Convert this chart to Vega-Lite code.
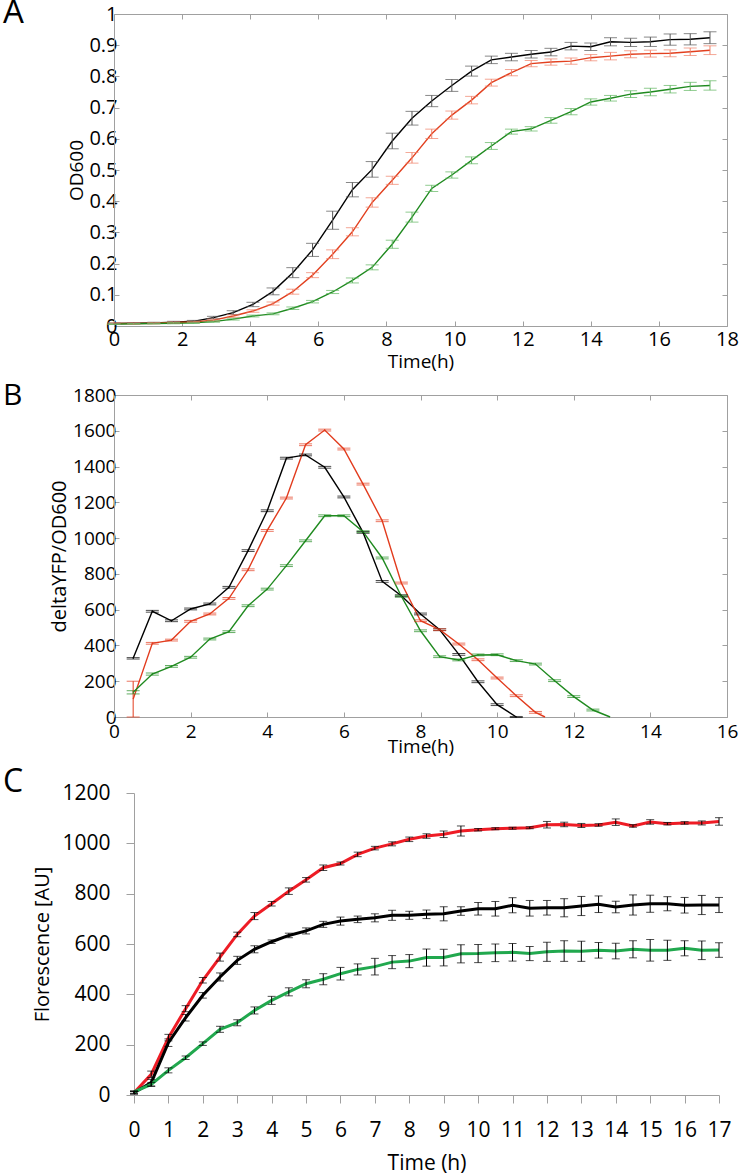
{
"$schema": "https://vega.github.io/schema/vega-lite/v6.json",
"padding": {"left": 3, "top": -4, "right": 0, "bottom": 4},
"spacing": 10,
"resolve": {"scale": {"color": "independent"}},
"datasets": {
"A": [
{"t":0,"s":"k","v":0.008,"e":0.002},{"t":0,"s":"r","v":0.008,"e":0.002},{"t":0,"s":"g","v":0.006,"e":0.001},
{"t":0.58,"s":"k","v":0.009,"e":0.002},{"t":0.58,"s":"r","v":0.008,"e":0.002},{"t":0.58,"s":"g","v":0.007,"e":0.001},
{"t":1.17,"s":"k","v":0.010,"e":0.002},{"t":1.17,"s":"r","v":0.009,"e":0.002},{"t":1.17,"s":"g","v":0.008,"e":0.001},
{"t":1.75,"s":"k","v":0.012,"e":0.003},{"t":1.75,"s":"r","v":0.011,"e":0.002},{"t":1.75,"s":"g","v":0.009,"e":0.002},
{"t":2.33,"s":"k","v":0.015,"e":0.003},{"t":2.33,"s":"r","v":0.013,"e":0.002},{"t":2.33,"s":"g","v":0.010,"e":0.002},
{"t":2.92,"s":"k","v":0.027,"e":0.004},{"t":2.92,"s":"r","v":0.019,"e":0.003},{"t":2.92,"s":"g","v":0.014,"e":0.002},
{"t":3.5,"s":"k","v":0.043,"e":0.006},{"t":3.5,"s":"r","v":0.032,"e":0.004},{"t":3.5,"s":"g","v":0.022,"e":0.003},
{"t":4.08,"s":"k","v":0.069,"e":0.007},{"t":4.08,"s":"r","v":0.048,"e":0.004},{"t":4.08,"s":"g","v":0.032,"e":0.003},
{"t":4.67,"s":"k","v":0.111,"e":0.011},{"t":4.67,"s":"r","v":0.072,"e":0.005},{"t":4.67,"s":"g","v":0.039,"e":0.003},
{"t":5.25,"s":"k","v":0.171,"e":0.016},{"t":5.25,"s":"r","v":0.110,"e":0.008},{"t":5.25,"s":"g","v":0.057,"e":0.004},
{"t":5.83,"s":"k","v":0.244,"e":0.021},{"t":5.83,"s":"r","v":0.163,"e":0.008},{"t":5.83,"s":"g","v":0.078,"e":0.004},
{"t":6.42,"s":"k","v":0.339,"e":0.029},{"t":6.42,"s":"r","v":0.230,"e":0.014},{"t":6.42,"s":"g","v":0.109,"e":0.005},
{"t":7,"s":"k","v":0.437,"e":0.023},{"t":7,"s":"r","v":0.302,"e":0.013},{"t":7,"s":"g","v":0.146,"e":0.008},
{"t":7.58,"s":"k","v":0.502,"e":0.025},{"t":7.58,"s":"r","v":0.396,"e":0.015},{"t":7.58,"s":"g","v":0.188,"e":0.008},
{"t":8.17,"s":"k","v":0.593,"e":0.025},{"t":8.17,"s":"r","v":0.467,"e":0.013},{"t":8.17,"s":"g","v":0.262,"e":0.013},
{"t":8.75,"s":"k","v":0.666,"e":0.022},{"t":8.75,"s":"r","v":0.539,"e":0.017},{"t":8.75,"s":"g","v":0.349,"e":0.016},
{"t":9.33,"s":"k","v":0.721,"e":0.018},{"t":9.33,"s":"r","v":0.616,"e":0.015},{"t":9.33,"s":"g","v":0.441,"e":0.010},
{"t":9.92,"s":"k","v":0.771,"e":0.019},{"t":9.92,"s":"r","v":0.676,"e":0.013},{"t":9.92,"s":"g","v":0.484,"e":0.010},
{"t":10.5,"s":"k","v":0.817,"e":0.016},{"t":10.5,"s":"r","v":0.724,"e":0.012},{"t":10.5,"s":"g","v":0.531,"e":0.011},
{"t":11.08,"s":"k","v":0.853,"e":0.012},{"t":11.08,"s":"r","v":0.780,"e":0.011},{"t":11.08,"s":"g","v":0.577,"e":0.011},
{"t":11.67,"s":"k","v":0.862,"e":0.012},{"t":11.67,"s":"r","v":0.812,"e":0.010},{"t":11.67,"s":"g","v":0.623,"e":0.008},
{"t":12.25,"s":"k","v":0.871,"e":0.012},{"t":12.25,"s":"r","v":0.841,"e":0.010},{"t":12.25,"s":"g","v":0.632,"e":0.007},
{"t":12.83,"s":"k","v":0.878,"e":0.012},{"t":12.83,"s":"r","v":0.846,"e":0.010},{"t":12.83,"s":"g","v":0.659,"e":0.009},
{"t":13.42,"s":"k","v":0.897,"e":0.012},{"t":13.42,"s":"r","v":0.849,"e":0.010},{"t":13.42,"s":"g","v":0.687,"e":0.010},
{"t":14,"s":"k","v":0.895,"e":0.012},{"t":14,"s":"r","v":0.860,"e":0.010},{"t":14,"s":"g","v":0.718,"e":0.010},
{"t":14.58,"s":"k","v":0.911,"e":0.013},{"t":14.58,"s":"r","v":0.865,"e":0.012},{"t":14.58,"s":"g","v":0.730,"e":0.009},
{"t":15.17,"s":"k","v":0.909,"e":0.013},{"t":15.17,"s":"r","v":0.871,"e":0.011},{"t":15.17,"s":"g","v":0.743,"e":0.011},
{"t":15.75,"s":"k","v":0.911,"e":0.015},{"t":15.75,"s":"r","v":0.873,"e":0.011},{"t":15.75,"s":"g","v":0.750,"e":0.012},
{"t":16.33,"s":"k","v":0.918,"e":0.018},{"t":16.33,"s":"r","v":0.874,"e":0.011},{"t":16.33,"s":"g","v":0.759,"e":0.012},
{"t":16.92,"s":"k","v":0.919,"e":0.018},{"t":16.92,"s":"r","v":0.879,"e":0.012},{"t":16.92,"s":"g","v":0.768,"e":0.013},
{"t":17.5,"s":"k","v":0.924,"e":0.019},{"t":17.5,"s":"r","v":0.884,"e":0.014},{"t":17.5,"s":"g","v":0.771,"e":0.015}
],
"B": [
{"t":0.5,"s":"k","v":328,"e":4},{"t":1,"s":"k","v":591,"e":5},{"t":1.5,"s":"k","v":538,"e":5},{"t":2,"s":"k","v":604,"e":5},{"t":2.5,"s":"k","v":632,"e":5},{"t":3,"s":"k","v":725,"e":5},{"t":3.5,"s":"k","v":930,"e":5},{"t":4,"s":"k","v":1153,"e":5},{"t":4.5,"s":"k","v":1447,"e":5},{"t":5,"s":"k","v":1465,"e":5},{"t":5.5,"s":"k","v":1396,"e":5},{"t":6,"s":"k","v":1230,"e":5},{"t":6.5,"s":"k","v":1032,"e":5},{"t":7,"s":"k","v":758,"e":5},{"t":7.5,"s":"k","v":678,"e":5},{"t":8,"s":"k","v":576,"e":5},{"t":8.5,"s":"k","v":488,"e":5},{"t":9,"s":"k","v":350,"e":5},{"t":9.5,"s":"k","v":197,"e":5},{"t":10,"s":"k","v":69,"e":5},{"t":10.5,"s":"k","v":0,"e":3},
{"t":0.5,"s":"r","v":100,"e":100},{"t":1,"s":"r","v":412,"e":5},{"t":1.5,"s":"r","v":430,"e":5},{"t":2,"s":"r","v":535,"e":5},{"t":2.5,"s":"r","v":576,"e":5},{"t":3,"s":"r","v":663,"e":5},{"t":3.5,"s":"r","v":823,"e":5},{"t":4,"s":"r","v":1043,"e":5},{"t":4.5,"s":"r","v":1224,"e":5},{"t":5,"s":"r","v":1522,"e":5},{"t":5.5,"s":"r","v":1604,"e":5},{"t":6,"s":"r","v":1498,"e":5},{"t":6.5,"s":"r","v":1302,"e":5},{"t":7,"s":"r","v":1097,"e":5},{"t":7.5,"s":"r","v":749,"e":5},{"t":8,"s":"r","v":538,"e":5},{"t":8.5,"s":"r","v":488,"e":5},{"t":9,"s":"r","v":408,"e":5},{"t":9.5,"s":"r","v":320,"e":5},{"t":10,"s":"r","v":218,"e":5},{"t":10.5,"s":"r","v":119,"e":5},{"t":11,"s":"r","v":26,"e":5},{"t":11.25,"s":"r","v":0,"e":null},
{"t":0.5,"s":"g","v":138,"e":9},{"t":1,"s":"g","v":240,"e":6},{"t":1.5,"s":"g","v":283,"e":5},{"t":2,"s":"g","v":334,"e":5},{"t":2.5,"s":"g","v":436,"e":5},{"t":3,"s":"g","v":477,"e":5},{"t":3.5,"s":"g","v":622,"e":5},{"t":4,"s":"g","v":715,"e":5},{"t":4.5,"s":"g","v":846,"e":5},{"t":5,"s":"g","v":985,"e":5},{"t":5.5,"s":"g","v":1125,"e":5},{"t":6,"s":"g","v":1125,"e":5},{"t":6.5,"s":"g","v":1036,"e":5},{"t":7,"s":"g","v":889,"e":5},{"t":7.5,"s":"g","v":675,"e":5},{"t":8,"s":"g","v":482,"e":5},{"t":8.5,"s":"g","v":337,"e":5},{"t":9,"s":"g","v":319,"e":5},{"t":9.5,"s":"g","v":347,"e":5},{"t":10,"s":"g","v":348,"e":5},{"t":10.5,"s":"g","v":315,"e":5},{"t":11,"s":"g","v":296,"e":5},{"t":11.5,"s":"g","v":203,"e":5},{"t":12,"s":"g","v":114,"e":5},{"t":12.5,"s":"g","v":39,"e":5},{"t":12.95,"s":"g","v":0,"e":null}
],
"C": [
{"t":0,"s":"r","v":9,"e":5},{"t":0.5,"s":"r","v":82,"e":13},{"t":1,"s":"r","v":228,"e":13},{"t":1.5,"s":"r","v":343,"e":12},{"t":2,"s":"r","v":456,"e":11},{"t":2.5,"s":"r","v":548,"e":16},{"t":3,"s":"r","v":638,"e":9},{"t":3.5,"s":"r","v":711,"e":14},{"t":4,"s":"r","v":760,"e":9},{"t":4.5,"s":"r","v":810,"e":13},{"t":5,"s":"r","v":855,"e":9},{"t":5.5,"s":"r","v":903,"e":11},{"t":6,"s":"r","v":920,"e":6},{"t":6.5,"s":"r","v":956,"e":9},{"t":7,"s":"r","v":981,"e":7},{"t":7.5,"s":"r","v":998,"e":8},{"t":8,"s":"r","v":1016,"e":9},{"t":8.5,"s":"r","v":1029,"e":9},{"t":9,"s":"r","v":1036,"e":13},{"t":9.5,"s":"r","v":1049,"e":20},{"t":10,"s":"r","v":1054,"e":5},{"t":10.5,"s":"r","v":1058,"e":4},{"t":11,"s":"r","v":1060,"e":4},{"t":11.5,"s":"r","v":1062,"e":4},{"t":12,"s":"r","v":1074,"e":13},{"t":12.5,"s":"r","v":1075,"e":9},{"t":13,"s":"r","v":1071,"e":8},{"t":13.5,"s":"r","v":1073,"e":5},{"t":14,"s":"r","v":1084,"e":13},{"t":14.5,"s":"r","v":1069,"e":5},{"t":15,"s":"r","v":1085,"e":9},{"t":15.5,"s":"r","v":1078,"e":5},{"t":16,"s":"r","v":1081,"e":5},{"t":16.5,"s":"r","v":1081,"e":8},{"t":17,"s":"r","v":1087,"e":15},
{"t":0,"s":"k","v":9,"e":5},{"t":0.5,"s":"k","v":49,"e":13},{"t":1,"s":"k","v":208,"e":15},{"t":1.5,"s":"k","v":307,"e":13},{"t":2,"s":"k","v":396,"e":11},{"t":2.5,"s":"k","v":469,"e":16},{"t":3,"s":"k","v":535,"e":16},{"t":3.5,"s":"k","v":579,"e":14},{"t":4,"s":"k","v":609,"e":7},{"t":4.5,"s":"k","v":634,"e":9},{"t":5,"s":"k","v":652,"e":12},{"t":5.5,"s":"k","v":678,"e":12},{"t":6,"s":"k","v":691,"e":16},{"t":6.5,"s":"k","v":698,"e":13},{"t":7,"s":"k","v":704,"e":16},{"t":7.5,"s":"k","v":714,"e":20},{"t":8,"s":"k","v":714,"e":16},{"t":8.5,"s":"k","v":718,"e":17},{"t":9,"s":"k","v":720,"e":28},{"t":9.5,"s":"k","v":731,"e":17},{"t":10,"s":"k","v":740,"e":25},{"t":10.5,"s":"k","v":740,"e":29},{"t":11,"s":"k","v":754,"e":30},{"t":11.5,"s":"k","v":742,"e":31},{"t":12,"s":"k","v":744,"e":29},{"t":12.5,"s":"k","v":744,"e":36},{"t":13,"s":"k","v":751,"e":38},{"t":13.5,"s":"k","v":758,"e":33},{"t":14,"s":"k","v":747,"e":23},{"t":14.5,"s":"k","v":755,"e":40},{"t":15,"s":"k","v":760,"e":34},{"t":15.5,"s":"k","v":760,"e":28},{"t":16,"s":"k","v":754,"e":31},{"t":16.5,"s":"k","v":755,"e":38},{"t":17,"s":"k","v":755,"e":30},
{"t":0,"s":"g","v":12,"e":5},{"t":0.5,"s":"g","v":42,"e":8},{"t":1,"s":"g","v":98,"e":10},{"t":1.5,"s":"g","v":148,"e":7},{"t":2,"s":"g","v":204,"e":7},{"t":2.5,"s":"g","v":261,"e":12},{"t":3,"s":"g","v":287,"e":12},{"t":3.5,"s":"g","v":336,"e":14},{"t":4,"s":"g","v":376,"e":16},{"t":4.5,"s":"g","v":410,"e":16},{"t":5,"s":"g","v":442,"e":16},{"t":5.5,"s":"g","v":460,"e":22},{"t":6,"s":"g","v":482,"e":25},{"t":6.5,"s":"g","v":499,"e":22},{"t":7,"s":"g","v":510,"e":33},{"t":7.5,"s":"g","v":528,"e":26},{"t":8,"s":"g","v":532,"e":26},{"t":8.5,"s":"g","v":546,"e":34},{"t":9,"s":"g","v":546,"e":33},{"t":9.5,"s":"g","v":561,"e":36},{"t":10,"s":"g","v":562,"e":36},{"t":10.5,"s":"g","v":565,"e":35},{"t":11,"s":"g","v":567,"e":35},{"t":11.5,"s":"g","v":562,"e":28},{"t":12,"s":"g","v":569,"e":38},{"t":12.5,"s":"g","v":572,"e":41},{"t":13,"s":"g","v":571,"e":40},{"t":13.5,"s":"g","v":575,"e":31},{"t":14,"s":"g","v":572,"e":31},{"t":14.5,"s":"g","v":579,"e":34},{"t":15,"s":"g","v":575,"e":43},{"t":15.5,"s":"g","v":575,"e":40},{"t":16,"s":"g","v":583,"e":30},{"t":16.5,"s":"g","v":575,"e":37},{"t":17,"s":"g","v":576,"e":29}
]
},
"vconcat": [
{
 "width": 613, "height": 312,
 "data": {"name": "A"},
 "title": {"text": "A", "fontSize": 33, "dx": -111, "offset": -25.5},
 "layer": [
  {
   "encoding": {
    "x": {"field": "t", "type": "quantitative", "scale": {"domain": [0, 18], "nice": false},
          "axis": {"orient": "bottom", "values": [0,2,4,6,8,10,12,14,16,18], "tickSize": -5, "labelFontSize": 20, "labelPadding": 8, "title": "Time(h)", "titleFontSize": 19, "titlePadding": 3}},
    "y": {"field": "v", "type": "quantitative", "scale": {"domain": [0, 1], "nice": false},
          "axis": {"orient": "left", "values": [0,0.1,0.2,0.3,0.4,0.5,0.6,0.7,0.8,0.9,1], "format": "~g", "tickSize": -5, "labelFontSize": 20, "labelPadding": 2, "title": "OD600", "titleFontSize": 19, "titlePadding": 2}}
   },
   "layer": [
    {"mark": {"type": "line", "strokeWidth": 1.4},
     "encoding": {"color": {"field": "s", "type": "nominal", "scale": {"domain": ["k","r","g"], "range": ["#000000","#e2401f","#1f8a1f"]}, "legend": null}}},
    {"mark": {"type": "errorbar", "ticks": {"size": 13}, "thickness": 1},
     "encoding": {"yError": {"field": "e"},
                  "color": {"field": "s", "type": "nominal", "scale": {"domain": ["k","r","g"], "range": ["#555555","#f08068","#60b560"]}, "legend": null}}}
   ],
   "resolve": {"scale": {"color": "independent"}}
  },
  {"mark": {"type": "point", "opacity": 0},
   "encoding": {
    "x": {"field": "t", "type": "quantitative", "axis": {"orient": "top", "values": [0,2,4,6,8,10,12,14,16,18], "tickSize": -5, "labels": false, "title": null}},
    "y": {"field": "v", "type": "quantitative", "axis": {"orient": "right", "values": [0,0.1,0.2,0.3,0.4,0.5,0.6,0.7,0.8,0.9,1], "tickSize": -5, "labels": false, "title": null}}
   }}
 ],
 "resolve": {"axis": {"x": "independent", "y": "independent"}}
},
{
 "width": 613, "height": 322,
 "data": {"name": "B"},
 "title": {"text": "B", "fontSize": 30, "dx": -111, "offset": -25},
 "layer": [
  {
   "encoding": {
    "x": {"field": "t", "type": "quantitative", "scale": {"domain": [0, 16], "nice": false},
          "axis": {"orient": "bottom", "values": [0,2,4,6,8,10,12,14,16], "tickSize": -5, "labelFontSize": 19, "labelPadding": 10, "title": "Time(h)", "titleFontSize": 19, "titlePadding": -4}},
    "y": {"field": "v", "type": "quantitative", "scale": {"domain": [0, 1800], "nice": false},
          "axis": {"orient": "left", "values": [0,200,400,600,800,1000,1200,1400,1600,1800], "format": "d", "tickSize": -5, "labelFontSize": 19, "labelPadding": 3, "title": "deltaYFP/OD600", "titleFontSize": 20, "titlePadding": 3}}
   },
   "layer": [
    {"mark": {"type": "line", "strokeWidth": 1.4},
     "encoding": {"color": {"field": "s", "type": "nominal", "scale": {"domain": ["k","r","g"], "range": ["#000000","#e23c1e","#1f8a1f"]}, "legend": null}}},
    {"transform": [{"filter": "isValid(datum.e)"}],
     "mark": {"type": "errorbar", "ticks": {"size": 13}, "thickness": 1},
     "encoding": {"yError": {"field": "e"},
                  "color": {"field": "s", "type": "nominal", "scale": {"domain": ["k","r","g"], "range": ["#000000","#e23c1e","#1f8a1f"]}, "legend": null}}}
   ]
  },
  {"mark": {"type": "point", "opacity": 0},
   "encoding": {
    "x": {"field": "t", "type": "quantitative", "axis": {"orient": "top", "values": [0,2,4,6,8,10,12,14,16], "tickSize": -5, "labels": false, "title": null}},
    "y": {"field": "v", "type": "quantitative", "axis": {"orient": "right", "values": [0,200,400,600,800,1000,1200,1400,1600,1800], "tickSize": -5, "labels": false, "title": null}}
   }}
 ],
 "resolve": {"axis": {"x": "independent", "y": "independent"}}
},
{
 "width": 605, "height": 302,
 "data": {"name": "C"},
 "title": {"text": "C", "fontSize": 32, "dx": -111, "offset": -17},
 "encoding": {
  "x": {"field": "t", "type": "quantitative", "scale": {"domain": [0, 17], "nice": false, "range": [20, 605]},
        "axis": {"values": [0,0.5,1,1.5,2,2.5,3,3.5,4,4.5,5,5.5,6,6.5,7,7.5,8,8.5,9,9.5,10,10.5,11,11.5,12,12.5,13,13.5,14,14.5,15,15.5,16,16.5,17], "format": "d", "labelExpr": "datum.value % 1 === 0 ? datum.label : ''", "tickSize": 8, "labelFontSize": 21, "labelPadding": 16, "title": "Time (h)", "titleFontSize": 21, "titlePadding": 12}},
  "y": {"field": "v", "type": "quantitative", "scale": {"domain": [0, 1200], "nice": false},
        "axis": {"values": [0,200,400,600,800,1000,1200], "format": "d", "tickSize": 8, "offset": -20, "labelFontSize": 21, "labelPadding": 16, "title": "Florescence [AU]", "titleFontSize": 20, "titlePadding": 9}}
 },
 "layer": [
  {"mark": {"type": "line", "strokeWidth": 3},
   "encoding": {"color": {"field": "s", "type": "nominal", "scale": {"domain": ["g","k","r"], "range": ["#21a84e","#000000","#ee1c25"]}, "legend": null}}},
  {"mark": {"type": "errorbar", "ticks": {"size": 8}, "thickness": 1, "color": "#000000"},
   "encoding": {"yError": {"field": "e"}, "detail": {"field": "s"}}}
 ]
}
],
"config": {
 "view": {"stroke": null},
 "font": "Open Sans",
 "title": {"font": "Open Sans", "fontWeight": "normal", "anchor": "start", "frame": "group", "baseline": "top", "color": "#000000"},
 "axis": {"grid": false, "labelFlush": false, "labelOverlap": false, "domainColor": "#a0a0a0", "tickColor": "#a0a0a0", "labelColor": "#000000", "titleColor": "#000000", "titleFontWeight": "normal", "labelFont": "Open Sans", "titleFont": "Open Sans"}
}
}
